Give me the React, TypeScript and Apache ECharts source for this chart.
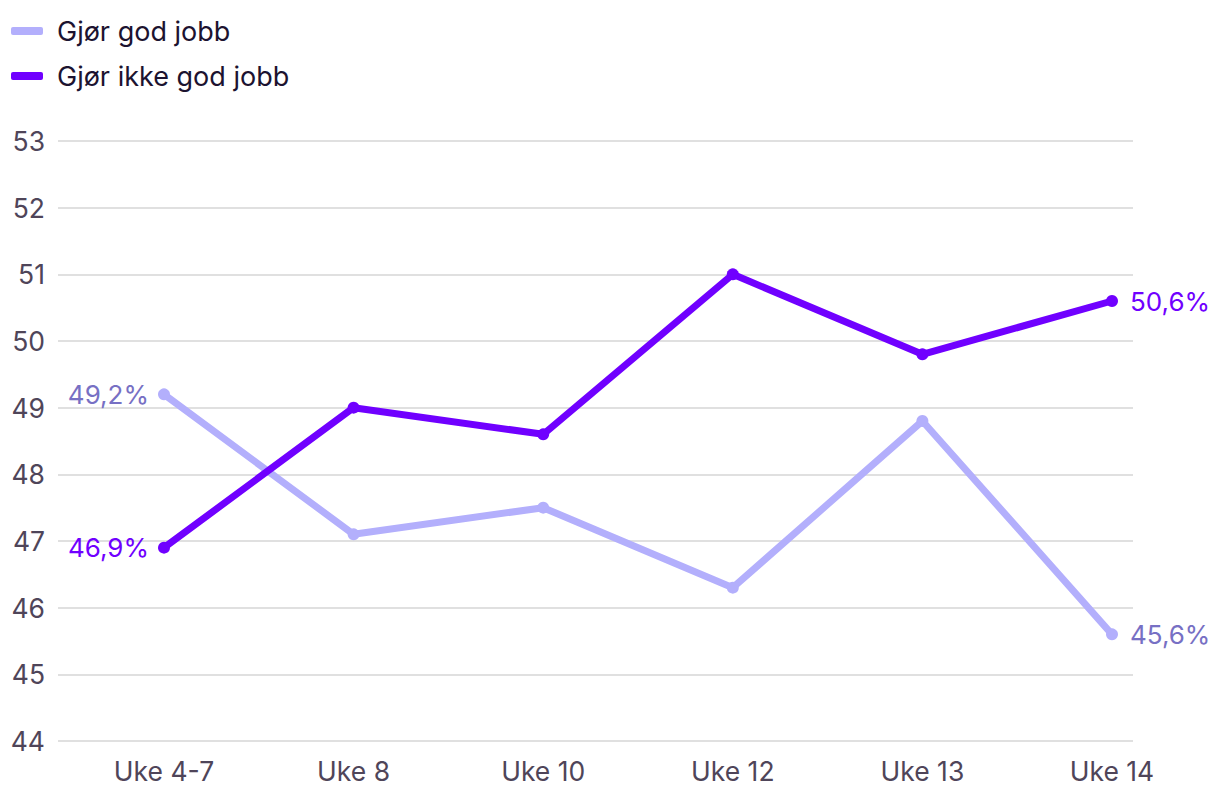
import React, { useEffect, useRef } from "react";
import * as echarts from "echarts";

const categories = ["Uke 4-7", "Uke 8", "Uke 10", "Uke 12", "Uke 13", "Uke 14"];
const seriesNames = ["Gjør god jobb", "Gjør ikke god jobb"];
const godJobb = [49.2, 47.1, 47.5, 46.3, 48.8, 45.6];
const ikkeGodJobb = [46.9, 49.0, 48.6, 51.0, 49.8, 50.6];
const yMin = 44;
const yMax = 53;

const FONT = "Inter, 'Noto Sans', sans-serif";

function withEndLabels(values: number[], labelColor: string) {
  const last = values.length - 1;
  return values.map((v, i) => {
    if (i === 0 || i === last) {
      return {
        value: v,
        label: {
          show: true,
          position: i === 0 ? "left" : "right",
          distance: i === 0 ? 9 : 12,
          color: labelColor,
          fontSize: 26,
          fontFamily: FONT,
          formatter: (p: any) => String(p.value).replace(".", ",") + "%",
        },
      };
    }
    return v;
  });
}

export default function App() {
  const ref = useRef<HTMLDivElement>(null);
  useEffect(() => {
    if (!ref.current) return;
    const chart = echarts.init(ref.current, null, { renderer: "svg" });
    chart.setOption({
      animation: false,
      backgroundColor: "#ffffff",
      textStyle: { fontFamily: FONT },
      legend: {
        data: seriesNames,
        orient: "vertical",
        left: 6,
        top: 10,
        icon: "roundRect",
        itemWidth: 32,
        itemHeight: 8,
        itemGap: 13,
        textStyle: {
          fontSize: 27,
          color: "#1c1330",
          fontFamily: FONT,
          padding: [0, 0, 0, 9],
          lineHeight: 32,
        },
      },
      grid: [
        { left: 58, right: 87, top: 141, bottom: 61 },
        { left: 164, right: 108, top: 141, bottom: 61 },
      ],
      xAxis: [
        { gridIndex: 0, type: "category", data: categories, show: false },
        {
          gridIndex: 1,
          type: "category",
          data: categories,
          boundaryGap: false,
          axisLine: { show: false },
          axisTick: { show: false },
          splitLine: { show: false },
          axisLabel: {
            interval: 0,
            margin: 16,
            fontSize: 26.5,
            color: "#4f4559",
            fontFamily: FONT,
          },
        },
      ],
      yAxis: [
        {
          gridIndex: 0,
          type: "value",
          min: yMin,
          max: yMax,
          interval: 1,
          axisLine: { show: false },
          axisTick: { show: false },
          axisLabel: {
            margin: 13,
            fontSize: 26.5,
            color: "#4f4559",
            fontFamily: FONT,
          },
          splitLine: { lineStyle: { color: "#e0e0e0", width: 2 } },
        },
        {
          gridIndex: 1,
          type: "value",
          min: yMin,
          max: yMax,
          interval: 1,
          show: false,
          splitLine: { show: false },
        },
      ],
      series: [
        {
          name: seriesNames[0],
          type: "line",
          xAxisIndex: 1,
          yAxisIndex: 1,
          data: withEndLabels(godJobb, "#7770c4"),
          symbol: "circle",
          symbolSize: 12,
          lineStyle: { color: "#b3affc", width: 7 },
          itemStyle: { color: "#b3affc" },
          z: 2,
        },
        {
          name: seriesNames[1],
          type: "line",
          xAxisIndex: 1,
          yAxisIndex: 1,
          data: withEndLabels(ikkeGodJobb, "#7000ff"),
          symbol: "circle",
          symbolSize: 12,
          lineStyle: { color: "#7000ff", width: 7 },
          itemStyle: { color: "#7000ff" },
          z: 3,
        },
      ],
    });
    return () => chart.dispose();
  }, []);
  return (
    <div
      ref={ref}
      style={{ position: "fixed", left: 0, top: 0, width: 1220, height: 802 }}
    />
  );
}
